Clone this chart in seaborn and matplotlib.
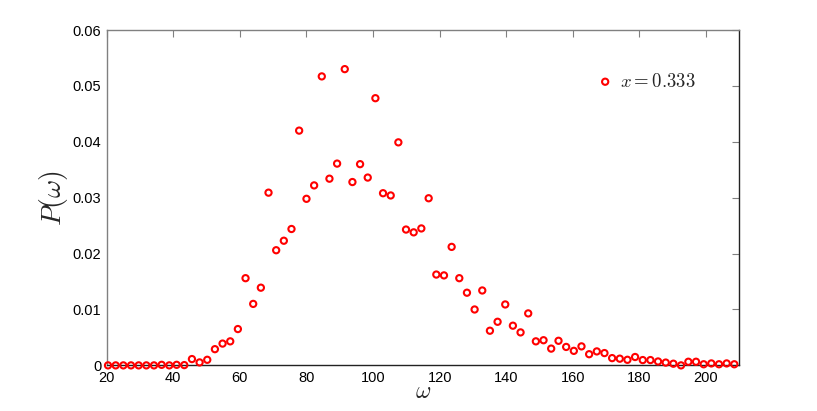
import numpy as np
import pandas as pd
import matplotlib
matplotlib.use("Agg")
import matplotlib.pyplot as plt
import seaborn as sns

# omega grid
omega = [20.4, 22.7, 25.0, 27.3, 29.6, 31.9, 34.2, 36.5, 38.8, 41.0,
         43.3, 45.6, 47.9, 50.2, 52.5, 54.8, 57.1, 59.4, 61.7, 64.0,
         66.3, 68.6, 70.9, 73.2, 75.5, 77.8, 80.0, 82.3, 84.6, 86.9,
         89.2, 91.5, 93.8, 96.1, 98.4, 100.7, 103.0, 105.3, 107.6, 109.9,
         112.2, 114.5, 116.7, 119.0, 121.3, 123.6, 125.9, 128.2, 130.5, 132.8,
         135.1, 137.4, 139.7, 142.0, 144.3, 146.6, 148.9, 151.2, 153.5, 155.7,
         158.0, 160.3, 162.6, 164.9, 167.2, 169.5, 171.8, 174.1, 176.4, 178.7,
         181.0, 183.3, 185.6, 187.9, 190.2, 192.5, 194.7, 197.0, 199.3, 201.6,
         203.9, 206.2, 208.5]

# P(omega) for x = 0.333
prob = [0.0, 0.0, 0.0, 0.0, 0.0, 0.0, 0.0, 0.0001, 0.0, 0.0001,
        0.00005, 0.00113, 0.00053, 0.0010, 0.0029, 0.0039, 0.0043, 0.0065, 0.0156, 0.0110,
        0.0139, 0.0309, 0.0206, 0.0223, 0.0244, 0.0420, 0.0298, 0.0322, 0.0517, 0.0334,
        0.0361, 0.0530, 0.0328, 0.0360, 0.0336, 0.0478, 0.0308, 0.0304, 0.0399, 0.0243,
        0.0238, 0.0245, 0.0299, 0.01625, 0.0161, 0.0212, 0.0156, 0.0130, 0.0100, 0.0134,
        0.0062, 0.0078, 0.0109, 0.0071, 0.0059, 0.0093, 0.0043, 0.0045, 0.0030, 0.0044,
        0.0033, 0.0026, 0.0034, 0.0020, 0.0025, 0.0022, 0.0013, 0.0012, 0.0010, 0.0015,
        0.00095, 0.00095, 0.0007, 0.0005, 0.0003, 0.0, 0.00065, 0.00065, 0.0002, 0.00035,
        0.0002, 0.00035, 0.0002]

xticks = [20, 40, 60, 80, 100, 120, 140, 160, 180, 200]
yticks = [0, 0.01, 0.02, 0.03, 0.04, 0.05, 0.06]
ytick_labels = ["0", "0.01", "0.02", "0.03", "0.04", "0.05", "0.06"]

df = pd.DataFrame({"omega": omega, "P": prob})

sns.set_style("white")
plt.rcParams["font.family"] = ["Liberation Sans", "DejaVu Sans"]
plt.rcParams["mathtext.fontset"] = "cm"

fig = plt.figure(figsize=(8.17, 4.11), dpi=100)
ax = fig.add_axes([0.1306, 0.111, 0.7743, 0.816])

sns.scatterplot(data=df, x="omega", y="P", ax=ax, marker="o", s=20,
                facecolor="none", edgecolor="#ff0000", linewidth=1.5,
                label=r"$x = 0.333$", zorder=3, clip_on=False)

ax.set_xlim(20, 210)
ax.set_ylim(0, 0.06)
ax.set_xticks(xticks)
ax.set_yticks(yticks)
ax.set_yticklabels(ytick_labels)

ax.tick_params(direction="in", length=5, width=0.8, color="#808080",
               labelsize=10.5, labelcolor="black", top=True, right=True,
               pad=4)

for side in ["left", "top"]:
    ax.spines[side].set_color("#808080")
for side in ["bottom", "right"]:
    ax.spines[side].set_color("#222222")
for side in ax.spines:
    ax.spines[side].set_linewidth(1.0)

ax.set_xlabel(r"$\omega$", fontsize=17, labelpad=-3)
ax.set_ylabel(r"$P(\omega)$", fontsize=20, labelpad=2)

leg = ax.legend(loc="center left", bbox_to_anchor=(0.745, 0.846), frameon=False,
                fontsize=13.5, handlelength=1.1, handletextpad=0.25,
                markerscale=1.0)

fig.savefig("out.png", dpi=100)
